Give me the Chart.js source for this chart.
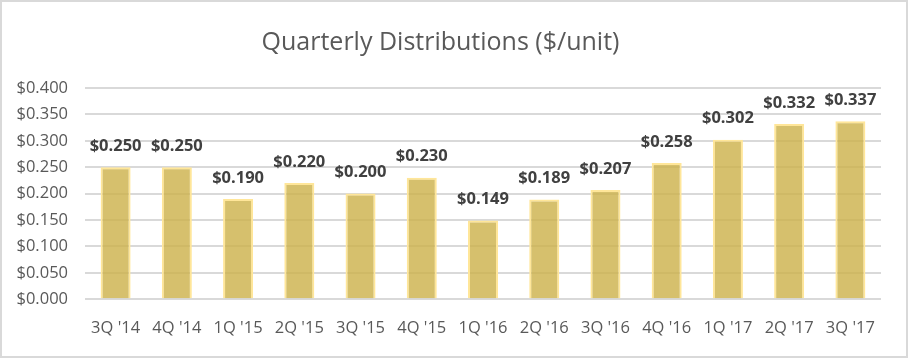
<!DOCTYPE html>
<html>
<head>
<meta charset="utf-8">
<script src="https://cdn.jsdelivr.net/npm/chart.js@4.4.1/dist/chart.umd.min.js"></script>
<style>
html,body{margin:0;padding:0;background:#fff;}
canvas{display:block;}
</style>
</head>
<body>
<canvas id="c" width="910" height="359"></canvas>
<script>
const categories = ["3Q '14","4Q '14","1Q '15","2Q '15","3Q '15","4Q '15","1Q '16","2Q '16","3Q '16","4Q '16","1Q '17","2Q '17","3Q '17"];
const distributions = [0.250,0.250,0.190,0.220,0.200,0.230,0.149,0.189,0.207,0.258,0.302,0.332,0.337];
const yTicks = [0,0.05,0.1,0.15,0.2,0.25,0.3,0.35,0.4];
const titleText = "Quarterly Distributions ($/unit)";

const fmt = v => "$" + v.toFixed(3);
const FONT = "'Open Sans', 'Noto Sans', sans-serif";

const framePlugin = {
  id: 'frame',
  afterDraw(chart) {
    const ctx = chart.ctx;
    ctx.save();
    ctx.strokeStyle = '#d9d9d9';
    ctx.lineWidth = 2;
    ctx.strokeRect(1, 1, 906, 356);
    ctx.restore();
  }
};

const labelPlugin = {
  id: 'barLabels',
  afterDatasetsDraw(chart) {
    const ctx = chart.ctx;
    const meta = chart.getDatasetMeta(0);
    ctx.save();
    ctx.font = "bold 16.5px " + FONT;
    ctx.fillStyle = "#404040";
    ctx.textAlign = "center";
    ctx.textBaseline = "middle";
    meta.data.forEach((bar, i) => {
      ctx.fillText(fmt(distributions[i]), bar.x, bar.y - 21);
    });
    ctx.restore();
  }
};

new Chart(document.getElementById('c'), {
  type: 'bar',
  data: {
    labels: categories,
    datasets: [{
      data: distributions,
      backgroundColor: 'rgba(204,176,72,0.8)',
      borderColor: '#ffe699',
      borderWidth: 2,
      borderSkipped: 'bottom',
      barPercentage: 0.49,
      categoryPercentage: 1.0
    }]
  },
  options: {
    responsive: false,
    animation: false,
    devicePixelRatio: 1,
    layout: { padding: { left: 0, right: 29, top: 0, bottom: 2 } },
    plugins: {
      legend: { display: false },
      tooltip: { enabled: false },
      title: {
        display: true,
        text: titleText,
        color: '#595959',
        font: { family: FONT, size: 25, weight: 'normal', lineHeight: 1.2 },
        padding: { top: 28, bottom: 30 }
      }
    },
    scales: {
      x: {
        grid: { display: false, drawTicks: false },
        border: { display: false },
        ticks: { color: '#595959', font: { family: FONT, size: 16.5 }, padding: 19, maxRotation: 0, autoSkip: false }
      },
      y: {
        min: 0, max: 0.4,
        afterBuildTicks(axis) { axis.ticks = yTicks.map(v => ({ value: v })); },
        afterFit(axis) { axis.width = 85; },
        grid: { color: '#d9d9d9', lineWidth: 2, drawTicks: false },
        border: { display: false },
        ticks: { color: '#595959', font: { family: FONT, size: 16.5 }, padding: 17, callback: v => fmt(v) }
      }
    }
  },
  plugins: [labelPlugin, framePlugin]
});
</script>
</body>
</html>
